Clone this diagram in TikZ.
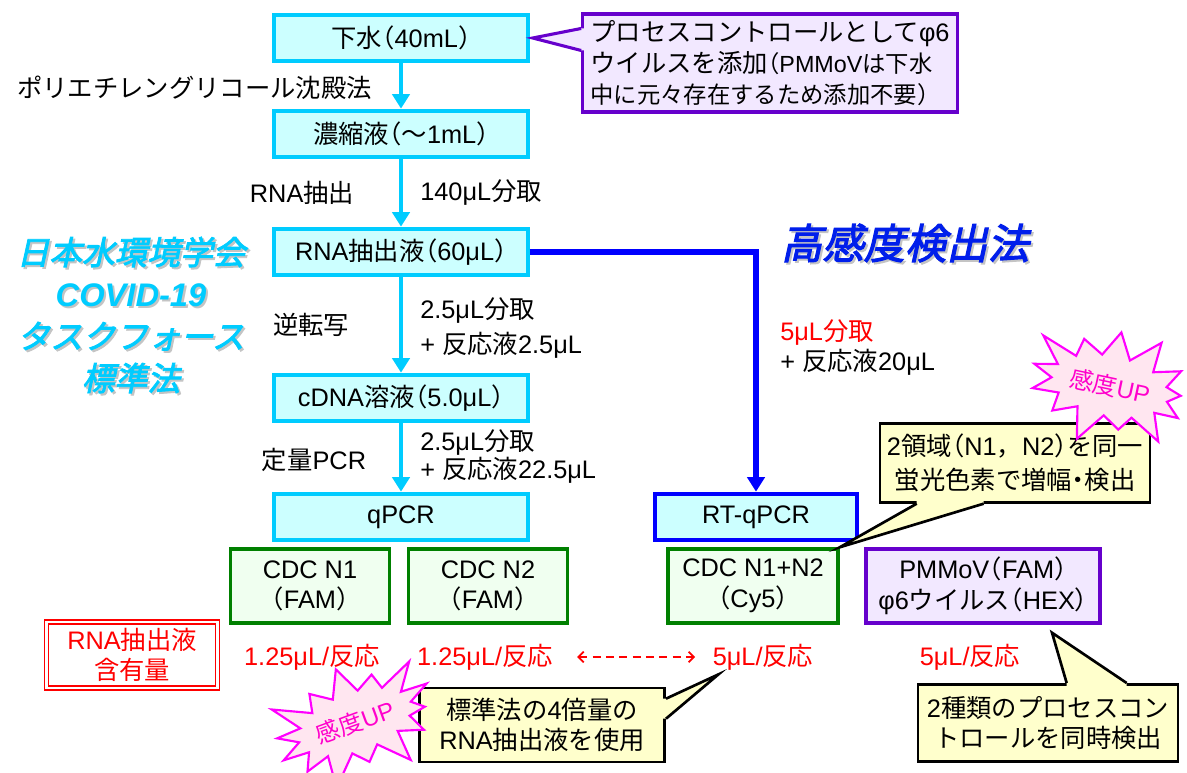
\documentclass[tikz,border=0pt]{standalone}
\usepackage{fontspec}
\setmainfont{Liberation Sans}
\newfontfamily\jpf{Noto Sans CJK JP}
\newfontfamily\jph[RawFeature=+halt]{Noto Sans CJK JP}
\newfontfamily\jpbi[FakeSlant=0.22,FakeBold=2.6]{Noto Sans CJK JP}
\newcommand\J[1]{{\jpf #1}}
\newcommand\LP{{\jph （}}
\newcommand\RP{{\jph ）}}
\newcommand\DT{{\jph ・}}
\usetikzlibrary{arrows.meta,shapes.symbols,calc}
\definecolor{cyanc}{RGB}{0,204,255}
\definecolor{cyanf}{RGB}{204,255,255}
\definecolor{bluec}{RGB}{0,0,255}
\definecolor{headc}{RGB}{0,30,235}
\definecolor{grnc}{RGB}{0,128,0}
\definecolor{grnf}{RGB}{240,255,240}
\definecolor{purc}{RGB}{102,0,204}
\definecolor{purf}{RGB}{242,232,255}
\definecolor{yelf}{RGB}{255,255,204}
\definecolor{magc}{RGB}{255,0,255}
\definecolor{magt}{RGB}{255,0,204}
\definecolor{pinkf}{RGB}{255,230,240}
\definecolor{shadc}{RGB}{196,196,196}
\begin{document}
\begin{tikzpicture}[x=0.75pt,y=-0.75pt,
  txt/.style={inner sep=0pt, font=\fontsize{19}{23}\selectfont},
  cbox/.style={txt, draw=cyanc, fill=cyanf, line width=3pt, minimum width=190pt, minimum height=35pt},
  gbox/.style={txt, align=center, draw=grnc, fill=grnf, line width=2.6pt, minimum width=119pt, minimum height=55.5pt},
  flow/.style={draw=cyanc, line width=3.6pt, -{Triangle[width=13pt,length=11pt]}},
  bflow/.style={draw=bluec, line width=3.8pt, -{Triangle[width=13pt,length=11pt]}},
  ybox/.style={txt, align=center, draw=black, fill=yelf, line width=2pt},
  burst/.style={starburst, draw=magc, fill=pinkf, line width=1.6pt, text=magt, font=\fontsize{18}{20}\selectfont, inner sep=1pt},
  redlab/.style={txt, text=red},
  ttl/.style={inner sep=0pt, align=center, font=\fontsize{24.5}{31.5}\selectfont},
  hdl/.style={inner sep=0pt, font=\fontsize{31}{35}\selectfont}
]
\useasboundingbox (0,0) rectangle (1187,772);

% main flow boxes
\node[cbox] (n1) at (401,38) {\J{下水}\LP 40mL\RP};
\node[cbox] (n2) at (401,134) {\J{濃縮液}\LP\J{～}1mL\RP};
\node[cbox] (n3) at (401,252) {RNA\J{抽出液}\LP 60μL\RP};
\node[cbox] (n4) at (401,398) {cDNA\J{溶液}\LP 5.0μL\RP};
\node[cbox] (n5) at (401,517) {qPCR};
\node[cbox, draw=bluec, minimum width=152pt] (rt) at (756,517) {RT-qPCR};

\draw[flow] (n1) -- (n2);
\draw[flow] (n2) -- (n3);
\draw[flow] (n3) -- (n4);
\draw[flow] (n4) -- (n5);
\draw[bflow] (n3.east) -| (rt.north);

% step labels
\node[txt, anchor=east] (lp) at (372,88) {\J{ポリエチレングリコール沈殿法}};
\node[txt] (lr) at (302,193) {RNA\J{抽出}};
\node[txt, anchor=west] (l140) at (420,193) {140μL\J{分取}};
\node[txt] (lrt) at (311,325) {\J{逆転写}};
\node[txt, anchor=west] (la1) at (420,311) {2.5μL\J{分取}};
\node[txt, anchor=west] (la2) at (420,345) {+ \J{反応液}2.5μL};
\node[txt] (lq) at (314,460) {\J{定量}PCR};
\node[txt, anchor=west] (lb1) at (420,443) {2.5μL\J{分取}};
\node[txt, anchor=west] (lb2) at (420,470) {+ \J{反応液}22.5μL};
\node[txt, anchor=west, text=red] (lc1) at (780,333) {5μL\J{分取}};
\node[txt, anchor=west] (lc2) at (780,362) {+ \J{反応液}20μL};

% titles
\node[ttl, text=shadc] (tsh) at (133,317) {{\jpbi 日本水環境学会}\\{\bfseries\itshape COVID-19}\\{\jpbi タスクフォース}\\{\jpbi 標準法}};
\node[ttl, text=cyanc] (tt) at (131,315) {{\jpbi 日本水環境学会}\\{\bfseries\itshape COVID-19}\\{\jpbi タスクフォース}\\{\jpbi 標準法}};
\node[hdl, text=shadc] (hsh) at (907,245) {\jpbi 高感度検出法};
\node[hdl, text=headc] (hd) at (905,243) {\jpbi 高感度検出法};

% assay boxes
\node[gbox] (g1) at (310,586) {CDC N1\\\LP FAM\RP};
\node[gbox] (g2) at (488,586) {CDC N2\\\LP FAM\RP};
\node[gbox, minimum width=127.5pt] (g3) at (753,586) {CDC N1+N2\\\LP Cy5\RP};
\node[gbox, draw=purc, fill=purf, minimum width=175.5pt] (pm) at (983,586) {PMMoV\LP FAM\RP\\φ6\J{ウイルス}\LP HEX\RP};

% volume labels
\node[txt, align=center, text=red, draw=red, double=white, double distance=2pt, line width=0.9pt, fill=white, minimum width=128pt, minimum height=49.5pt] (rb) at (132,655) {RNA\J{抽出液}\\\J{含有量}};
\node[redlab] (l1) at (312,657) {1.25μL/\J{反応}};
\node[redlab] (l2) at (485,657) {1.25μL/\J{反応}};
\node[redlab] (l3) at (763,657) {5μL/\J{反応}};
\node[redlab] (l4) at (970,657) {5μL/\J{反応}};
\draw[red, line width=1.3pt, dash pattern=on 6pt off 4pt, shorten <=18pt, shorten >=13pt, {Straight Barb[length=4pt,width=8pt]}-{Straight Barb[length=4pt,width=8pt]}] (l2) -- (l3);

% purple callout
\node[txt, align=left, draw=purc, fill=purf, line width=2.3pt, minimum width=281pt, minimum height=73.5pt] (pc) at (770,63) {\J{プロセスコントロールとして}φ6\\\J{ウイルスを添加}{\fontsize{17.5}{23}\selectfont\LP PMMoV\J{は下水}}\\{\fontsize{17.5}{23}\selectfont\J{中に元々存在するため添加不要}\RP}};
\coordinate (pct) at ($(n1.east)+(3,0)$);
\fill[purf] ($(pc.north west)+(4,16)$) -- ($(pc.north west)+(0,16)$) -- (pct) -- ($(pc.north west)+(0,38)$) -- ($(pc.north west)+(4,38)$) -- cycle;
\draw[purc, line width=2.3pt] ($(pc.north west)+(0,16)$) -- (pct) -- ($(pc.north west)+(0,38)$);

% yellow callout top right
\node[ybox, minimum width=202.5pt, minimum height=59pt, font=\fontsize{19}{25.5}\selectfont] (y1) at (1015,463) {2\J{領域}\LP N1\J{，}N2\RP\J{を同一}\\\J{蛍光色素で増幅}\DT\J{検出}};
\coordinate (y1t) at (g3.north east);
\fill[yelf] ($(y1.south west)+(38,-4)$) -- ($(y1.south west)+(38,0)$) -- (y1t) -- ($(y1.south west)+(105,0)$) -- ($(y1.south west)+(105,-4)$) -- cycle;
\draw[line width=2pt] ($(y1.south west)+(38,0)$) -- (y1t) -- ($(y1.south west)+(105,0)$);

% yellow callout bottom middle
\node[ybox, minimum width=184pt, minimum height=55.5pt, font=\fontsize{19}{22.5}\selectfont] (y2) at (542,725) {\J{標準法の}4\J{倍量の}\\RNA\J{抽出液を使用}};
\coordinate (y2t) at ($(l3.south west)+(6,4)$);
\fill[yelf] ($(y2.north east)+(-4,12)$) -- ($(y2.north east)+(0,12)$) -- (y2t) -- ($(y2.north east)+(0,32)$) -- ($(y2.north east)+(-4,32)$) -- cycle;
\draw[line width=2pt] ($(y2.north east)+(0,12)$) -- (y2t) -- ($(y2.north east)+(0,32)$);

% yellow callout bottom right
\node[ybox, minimum width=195pt, minimum height=58pt] (y3) at (1048,723) {2\J{種類のプロセスコン}\\\J{トロールを同時検出}};
\coordinate (y3t) at ($(pm.south)+(69,8)$);
\fill[yelf] ($(y3.north west)+(150,4)$) -- ($(y3.north west)+(150,0)$) -- (y3t) -- ($(y3.north west)+(210,0)$) -- ($(y3.north west)+(210,4)$) -- cycle;
\draw[line width=2pt] ($(y3.north west)+(150,0)$) -- (y3t) -- ($(y3.north west)+(210,0)$);

% bursts
\node[burst, starburst points=13, starburst point height=26pt, minimum width=138pt, minimum height=97pt, rotate=-12] (s1) at (1110,386) {\J{感度}UP};
\node[burst, starburst points=14, starburst point height=28pt, minimum width=142pt, minimum height=100pt, rotate=20] (s2) at (355,722) {\J{感度}UP};
\end{tikzpicture}
\end{document}
